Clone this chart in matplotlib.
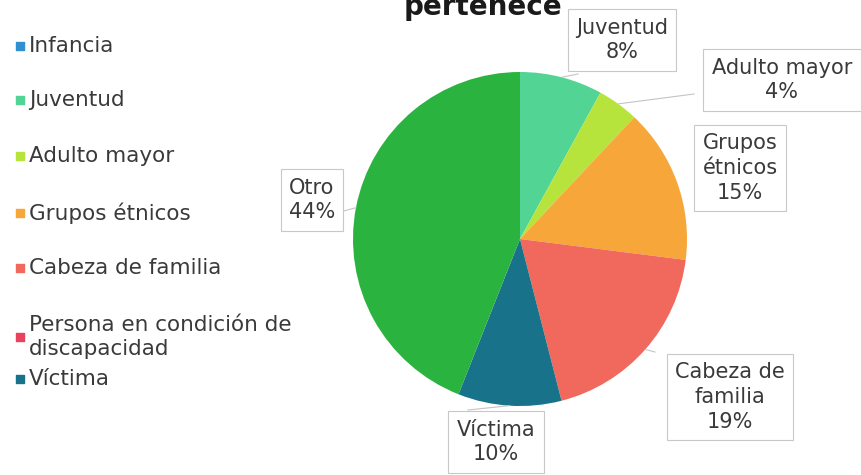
import numpy as np
import matplotlib
matplotlib.use('Agg')
import matplotlib.pyplot as plt

# Data
categories = ['Infancia', 'Juventud', 'Adulto mayor', 'Grupos étnicos',
              'Cabeza de familia', 'Persona en condición de\ndiscapacidad',
              'Víctima', 'Otro']
percent = [0, 8, 4, 15, 19, 0, 10, 44]
colors = ['#2f8fcf', '#52d494', '#b6e43c', '#f7a63a',
          '#f1685c', '#e8435c', '#17728a', '#2bb33f']
title = 'pertenece'

plt.rcParams['font.family'] = ['DejaVu Sans']
W, H = 861, 475
fig = plt.figure(figsize=(W / 100, H / 100), dpi=100)
ax = fig.add_axes([0, 0, 1, 1])

cx, cy, r = 520, H - 239, 167
wedges, _ = ax.pie(percent, colors=colors, startangle=90, counterclock=False,
                   center=(cx, cy), radius=r, frame=True,
                   wedgeprops=dict(linewidth=0))
ax.set_xlim(0, W)
ax.set_ylim(0, H)
ax.set_aspect('equal')
ax.axis('off')

# data labels: box centre and leader end point, pixels from top-left
label_pos = {
    1: ((622, 40), (578, 74)),
    2: ((782, 80), (694, 94)),
    3: ((740, 168), None),
    4: ((730, 397), (655, 352)),
    6: ((496, 442), (468, 410)),
    7: ((312, 200), (340, 212)),
}
label_text = {3: 'Grupos\nétnicos', 4: 'Cabeza de\nfamilia'}
for i, ((lx, ly), end) in label_pos.items():
    w = wedges[i]
    mid = np.deg2rad((w.theta1 + w.theta2) / 2)
    if end is not None:
        px, py = cx + r * np.cos(mid), cy + r * np.sin(mid)
        ax.plot([px, end[0]], [py, H - end[1]], color='#c4c4c4', lw=0.8, zorder=1)
    name = label_text.get(i, categories[i])
    ax.text(lx, H - ly, f'{name}\n{percent[i]}%', ha='center', va='center',
            fontsize=15, color='#3a3a3a', linespacing=1.3,
            bbox=dict(boxstyle='square,pad=0.4', fc='white', ec='#c8c8c8', lw=0.8),
            zorder=3)

# legend drawn entry by entry
legend_y = [46, 100, 156, 213, 268, 337, 379]
for (name, col, y) in zip(categories[:7], colors[:7], legend_y):
    ax.scatter([20], [H - y], marker='s', s=34, color=col, zorder=3)
    ax.text(29, H - y, name, ha='left', va='center', fontsize=15.5,
            color='#3a3a3a', linespacing=1.2)

ax.text(483, H - 15, title, ha='center', va='baseline', fontsize=20,
        fontweight='bold', color='#1a1a1a')

fig.savefig('out.png', dpi=100)
